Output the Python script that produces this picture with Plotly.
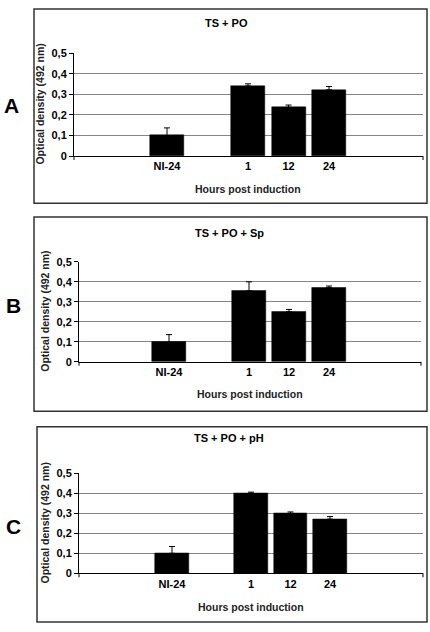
import plotly.graph_objects as go

W, H = 430, 632

# ---------------- data ----------------
categories = ["NI-24", "1", "12", "24"]
panel_letters = ["A", "B", "C"]
panel_titles = ["TS + PO", "TS + PO + Sp", "TS + PO + pH"]
values_A = [0.10, 0.34, 0.237, 0.322]
errors_A = [0.037, 0.011, 0.011, 0.016]
values_B = [0.098, 0.355, 0.25, 0.37]
errors_B = [0.038, 0.045, 0.012, 0.009]
values_C = [0.10, 0.40, 0.30, 0.271]
errors_C = [0.034, 0.006, 0.007, 0.013]
y_tickvals = [0, 0.1, 0.2, 0.3, 0.4, 0.5]
y_ticktext = ["0", "0,1", "0,2", "0,3", "0,4", "0,5"]
x_title = "Hours post induction"
y_title = "Optical density (492 nm)"

# ---------------- layout helpers ----------------
slot = {"NI-24": 2, "1": 4, "12": 5, "24": 6}
FONT = "Liberation Sans, Arial, sans-serif"


def px(x):
    return x / W


def py(y):
    return 1 - y / H


panels = [
    dict(vals=values_A, errs=errors_A, xd=(74, 423), y0=153, y5=48, xr=(-0.296, 8.32),
         box=(34, 3, 427, 201), title=(226, 17), xt=(248, 187), yt=(40, 100.5), letter=(11, 101)),
    dict(vals=values_B, errs=errors_B, xd=(79, 421), y0=362.7, y5=260.7, xr=(-0.25, 8.3),
         box=(34, 215, 427, 413), title=(229, 231), xt=(250, 396), yt=(45, 311.7), letter=(13, 305)),
    dict(vals=values_C, errs=errors_C, xd=(79, 423), y0=578.3, y5=476.3, xr=(-0.354, 8.354),
         box=(37, 429, 427, 628), title=(229, 440), xt=(251, 612.7), yt=(45, 527.5), letter=(13, 531)),
]

fig = go.Figure()
shapes = []
annotations = []

for i, p in enumerate(panels):
    n = "" if i == 0 else str(i + 1)
    xa, ya = "x" + n, "y" + n
    fig.add_trace(go.Bar(
        x=[slot[c] for c in categories], y=p["vals"], width=0.84,
        marker=dict(color="black", line=dict(color="black", width=0.5)),
        error_y=dict(type="data", array=p["errs"], arrayminus=[0] * len(categories),
                     symmetric=False, color="black", thickness=1, width=3),
        xaxis=xa, yaxis=ya, showlegend=False, hoverinfo="skip",
    ))
    fig.layout["xaxis" + n] = dict(
        domain=[px(p["xd"][0]), px(p["xd"][1])], range=list(p["xr"]), anchor=ya,
        tickvals=[slot[c] for c in categories], ticktext=categories, ticks="", showgrid=False,
        showline=True, linecolor="black", linewidth=1, zeroline=False,
        tickfont=dict(family=FONT, size=11, color="black", weight="bold"), fixedrange=True,
    )
    fig.layout["yaxis" + n] = dict(
        domain=[py(p["y0"]), py(p["y5"])], range=[0, 0.5005], anchor=xa,
        tickvals=y_tickvals, ticktext=y_ticktext, ticks="outside", ticklen=4, tickcolor="black",
        showgrid=True, gridcolor="#858585", gridwidth=1, showline=True, linecolor="black",
        linewidth=1, zeroline=False,
        tickfont=dict(family=FONT, size=11, color="black", weight="bold"), fixedrange=True,
    )
    # end tick marks on the x axis
    for xe in (0, 1):
        shapes.append(dict(type="line", xref=xa + " domain", yref="paper",
                           x0=xe, x1=xe, y0=py(p["y0"]), y1=py(p["y0"] + 4),
                           line=dict(color="black", width=1)))
    # panel frame
    bx0, by0, bx1, by1 = p["box"]
    shapes.append(dict(type="rect", xref="paper", yref="paper",
                       x0=px(bx0), x1=px(bx1), y0=py(by1), y1=py(by0),
                       line=dict(color="#333333", width=1.5)))
    annotations.append(dict(text=panel_titles[i], x=px(p["title"][0]), y=py(p["title"][1]),
                            xref="paper", yref="paper", showarrow=False,
                            xanchor="center", yanchor="middle",
                            font=dict(family=FONT, size=11, color="black", weight="bold")))
    annotations.append(dict(text=x_title, x=px(p["xt"][0]), y=py(p["xt"][1]),
                            xref="paper", yref="paper", showarrow=False,
                            xanchor="center", yanchor="middle",
                            font=dict(family=FONT, size=10.5, color="#222222", weight="bold")))
    annotations.append(dict(text=y_title, x=px(p["yt"][0]), y=py(p["yt"][1]), textangle=-90,
                            xref="paper", yref="paper", showarrow=False,
                            xanchor="center", yanchor="middle",
                            font=dict(family=FONT, size=10.5, color="#222222", weight="bold")))
    annotations.append(dict(text=panel_letters[i], x=px(p["letter"][0]), y=py(p["letter"][1]),
                            xref="paper", yref="paper", showarrow=False,
                            xanchor="center", yanchor="middle",
                            font=dict(family=FONT, size=21, color="black", weight="bold")))

fig.update_layout(
    width=W, height=H, margin=dict(l=0, r=0, t=0, b=0),
    paper_bgcolor="white", plot_bgcolor="white",
    shapes=shapes, annotations=annotations, bargap=0,
)

fig.write_html("out.html", config={"displayModeBar": False},
               post_script="document.body.style.margin='0';document.body.style.overflow='hidden';")
